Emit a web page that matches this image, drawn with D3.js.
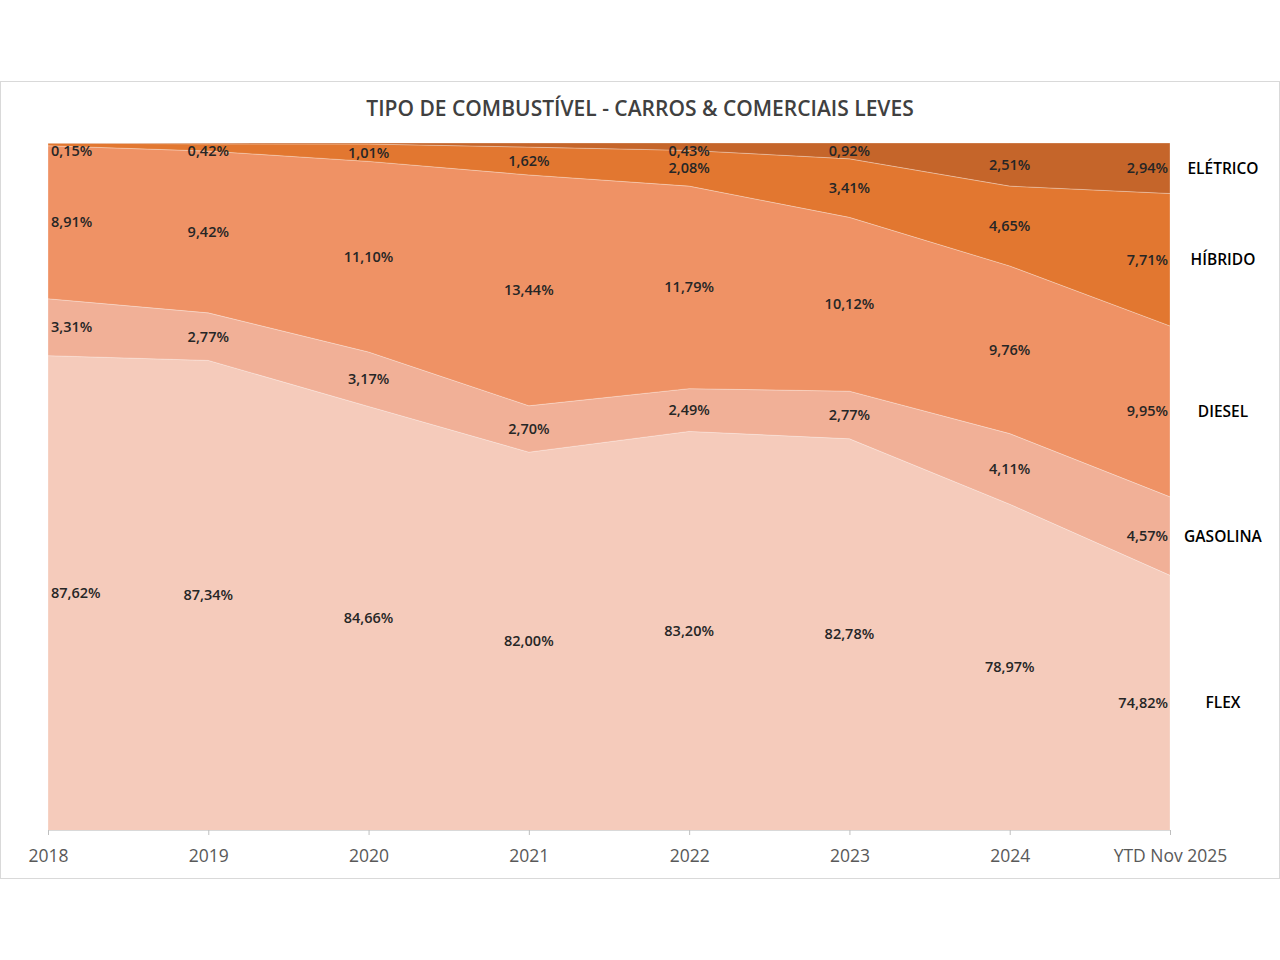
<!DOCTYPE html>
<html>
<head>
<meta charset="utf-8">
<script src="https://cdn.jsdelivr.net/npm/d3@7"></script>
<style>
  body { margin: 0; background: #fff; }
  svg text { font-family: "Open Sans", "Noto Sans", sans-serif; }
</style>
</head>
<body>
<div id="chart"></div>
<script>
// categorias do eixo x
const anos = ['2018', '2019', '2020', '2021', '2022', '2023', '2024', 'YTD Nov 2025'];

// participação (%) por tipo de combustível
const flex     = [87.62, 87.34, 84.66, 82.00, 83.20, 82.78, 78.97, 74.82];
const gasolina = [3.31, 2.77, 3.17, 2.70, 2.49, 2.77, 4.11, 4.57];
const diesel   = [8.91, 9.42, 11.10, 13.44, 11.79, 10.12, 9.76, 9.95];
const hibrido  = [0.15, 0.42, 1.01, 1.62, 2.08, 3.41, 4.65, 7.71];
const eletrico = [0.01, 0.05, 0.06, 0.24, 0.43, 0.92, 2.51, 2.94];

const series = ['FLEX', 'GASOLINA', 'DIESEL', 'HÍBRIDO', 'ELÉTRICO'];
const valores = [flex, gasolina, diesel, hibrido, eletrico];
const cores = ['#f5cbbb', '#f1b097', '#ef9265', '#e27730', '#c5652a'];
// rótulos que não aparecem no gráfico original
const semRotulo = { 'ELÉTRICO': ['2018', '2019', '2020', '2021'] };

const width = 1280, height = 960;
const margin = { top: 143, left: 48, right: 110, bottom: 130 };
const x0 = margin.left, x1 = width - margin.right;
const yTop = margin.top, yBottom = height - margin.bottom;

const svg = d3.select('#chart').append('svg')
    .attr('width', width)
    .attr('height', height);

// moldura do gráfico
svg.append('rect')
    .attr('x', 0.5).attr('y', 81.5)
    .attr('width', width - 1).attr('height', 797)
    .attr('fill', '#fff')
    .attr('stroke', '#d9d9d9');

svg.append('text')
    .attr('x', 640).attr('y', 116)
    .attr('text-anchor', 'middle')
    .style('font-size', '21px')
    .style('font-weight', 600)
    .style('fill', '#404040')
    .text('TIPO DE COMBUSTÍVEL - CARROS & COMERCIAIS LEVES');

// tabela no formato do d3.stack
const tabela = anos.map((ano, i) => {
    const row = { ano: ano };
    series.forEach((s, j) => { row[s] = valores[j][i]; });
    return row;
});

const stack = d3.stack()
    .keys(series)
    .offset(d3.stackOffsetExpand);
const camadas = stack(tabela);

const x = d3.scalePoint().domain(anos).range([x0, x1]);
// eixo vertical oculto, de 60% a 100%
const y = d3.scaleLinear().domain([0.6, 1]).range([yBottom, yTop]);

svg.append('clipPath').attr('id', 'clip')
    .append('rect')
    .attr('x', x0).attr('y', yTop)
    .attr('width', x1 - x0).attr('height', yBottom - yTop);

const area = d3.area()
    .x(d => x(d.data.ano))
    .y0(d => y(d[0]))
    .y1(d => y(d[1]));

svg.append('g')
    .attr('clip-path', 'url(#clip)')
    .selectAll('path')
    .data(camadas)
    .enter()
    .append('path')
    .attr('d', area)
    .attr('fill', (d, i) => cores[i])
    .attr('stroke', 'rgba(255,255,255,0.35)')
    .attr('stroke-width', 0.8);

// eixo x
const eixo = svg.append('g')
    .attr('transform', `translate(0,${yBottom})`)
    .call(d3.axisBottom(x).tickSize(5).tickPadding(15));
eixo.select('.domain').attr('stroke', '#d9d9d9');
eixo.selectAll('.tick line').attr('stroke', '#bfbfbf');
eixo.selectAll('.tick text')
    .style('font-size', '17.5px')
    .style('fill', '#595959');

// posição vertical do rótulo: meio da parte visível da faixa
function meio(d) {
    const a = Math.max(d[0], 0.6), b = Math.min(d[1], 1);
    return Math.max((y(a) + y(b)) / 2, yTop + 8);
}

// rótulos de dados
camadas.forEach((camada, j) => {
    const nome = series[j];
    const g = svg.append('g');
    camada.forEach((d, i) => {
        const ano = anos[i];
        if (semRotulo[nome] && semRotulo[nome].includes(ano)) return;
        let px = x(ano), anchor = 'middle';
        if (i === 0) { px = x0 + 3; anchor = 'start'; }
        if (i === anos.length - 1) { px = x1 - 2; anchor = 'end'; }
        g.append('text')
            .attr('x', px)
            .attr('y', meio(d))
            .attr('dy', '0.35em')
            .attr('text-anchor', anchor)
            .style('font-size', '14.5px')
            .style('font-weight', 600)
            .style('fill', '#262626')
            .text(valores[j][i].toFixed(2).replace('.', ',') + '%');
    });
    // nome da série alinhado com o último ponto
    const ultimo = camada[camada.length - 1];
    svg.append('text')
        .attr('x', 1223)
        .attr('y', meio(ultimo))
        .attr('dy', '0.35em')
        .attr('text-anchor', 'middle')
        .style('font-size', '15.5px')
        .style('font-weight', 600)
        .style('fill', '#000')
        .text(nome);
});
</script>
</body>
</html>
